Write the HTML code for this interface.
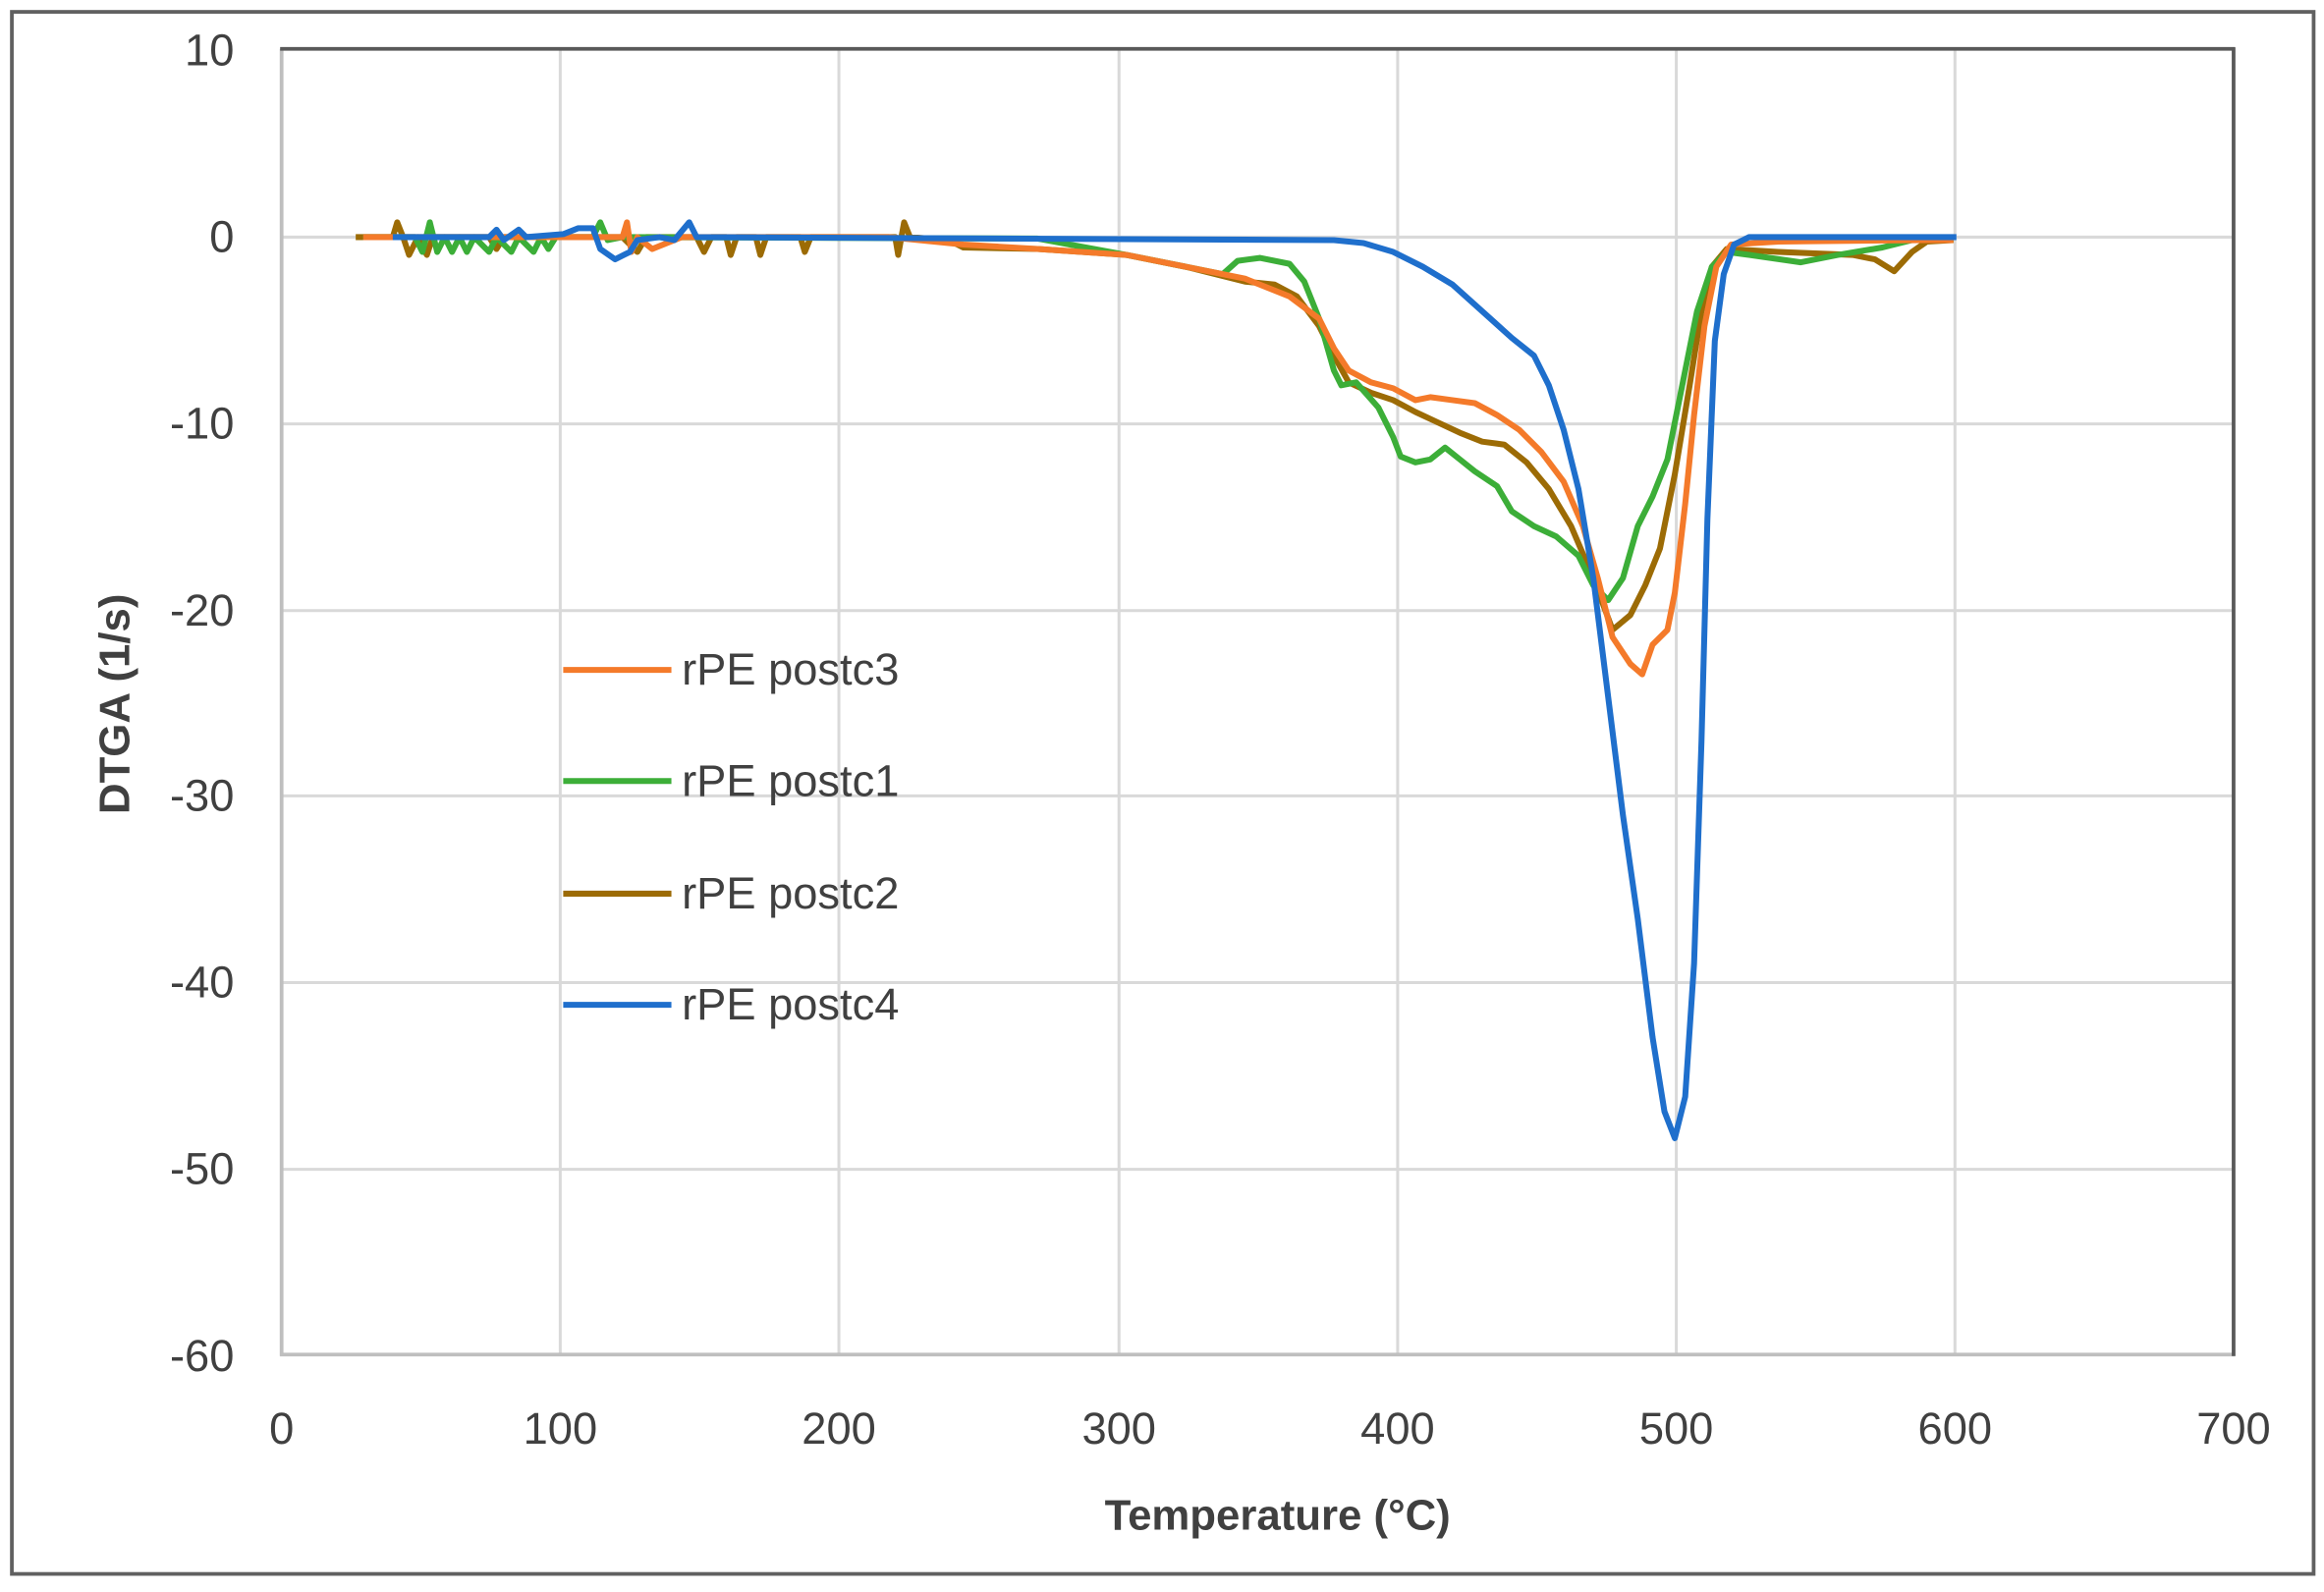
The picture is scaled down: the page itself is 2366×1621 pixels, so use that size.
<!DOCTYPE html>
<html><head><meta charset="utf-8"><style>
html,body{margin:0;padding:0;background:#fff}
svg{display:block}
text{font-family:"Liberation Sans",sans-serif;fill:#404040}
</style></head><body>
<svg width="2366" height="1621" viewBox="0 0 1568 1074.2" preserveAspectRatio="none" xmlns="http://www.w3.org/2000/svg">
<rect x="8" y="8" width="1553" height="1054" fill="#fff" stroke="#606060" stroke-width="2.5"/>
<g stroke="#d9d9d9" stroke-width="2" fill="none">
<line x1="190" y1="160" x2="1507" y2="160"/>
<line x1="190" y1="286" x2="1507" y2="286"/>
<line x1="190" y1="412" x2="1507" y2="412"/>
<line x1="190" y1="537" x2="1507" y2="537"/>
<line x1="190" y1="663" x2="1507" y2="663"/>
<line x1="190" y1="789" x2="1507" y2="789"/>
<line x1="378" y1="33" x2="378" y2="914"/>
<line x1="566" y1="33" x2="566" y2="914"/>
<line x1="755" y1="33" x2="755" y2="914"/>
<line x1="943" y1="33" x2="943" y2="914"/>
<line x1="1131" y1="33" x2="1131" y2="914"/>
<line x1="1319" y1="33" x2="1319" y2="914"/>
</g>
<line x1="190" y1="33" x2="190" y2="915" stroke="#bfbfbf" stroke-width="2.5"/>
<line x1="189" y1="914" x2="1508" y2="914" stroke="#bfbfbf" stroke-width="2.5"/>
<line x1="189" y1="33" x2="1508" y2="33" stroke="#595959" stroke-width="2.5"/>
<line x1="1507" y1="32" x2="1507" y2="915" stroke="#595959" stroke-width="2.5"/>
<g font-size="30" text-anchor="end">
<text x="158" y="44">10</text><text x="158" y="170">0</text><text x="158" y="296">-10</text>
<text x="158" y="422">-20</text><text x="158" y="547">-30</text><text x="158" y="673">-40</text>
<text x="158" y="799">-50</text><text x="158" y="925">-60</text>
</g>
<g font-size="30" text-anchor="middle">
<text x="190" y="974">0</text><text x="378" y="974">100</text><text x="566" y="974">200</text>
<text x="755" y="974">300</text><text x="943" y="974">400</text><text x="1131" y="974">500</text>
<text x="1319" y="974">600</text><text x="1507" y="974">700</text>
</g>
<text x="862" y="1032" font-size="29" font-weight="bold" text-anchor="middle">Temperature (°C)</text>
<text transform="translate(87,475) rotate(-90)" font-size="29" font-weight="bold" text-anchor="middle">DTGA  (1/s)</text>
<g fill="none" stroke-width="4" stroke-linejoin="round">
<polyline stroke="#9c6b05" points="240,160 265,160 268,150 272,160 276,172 282,160 288,172 292,160 330,160 335,168 340,160 420,160 430,170 436,160 470,160 475,170 480,160 490,160 493,172 497,160 510,160 513,172 517,160 540,160 543,170 547,160 604,160 606,172 610,150 614,160 640,162 650,167 700,168 760,172 800,180 840,190 860,192 875,200 890,220 900,240 910,258 925,265 940,270 955,278 970,285 985,292 1000,298 1015,300 1030,312 1045,330 1060,355 1075,390 1088,425 1100,415 1110,395 1120,370 1130,320 1140,260 1148,210 1155,180 1165,168 1200,170 1250,172 1265,175 1278,183 1290,170 1300,163 1318,162"/>
<polyline stroke="#3cae38" points="245,160 280,160 285,170 290,150 295,170 300,160 305,170 310,160 315,170 320,160 330,170 335,160 345,170 350,160 360,170 365,160 370,168 375,160 400,160 405,150 410,162 420,160 700,161 760,172 800,180 825,185 835,176 850,174 870,178 880,190 890,215 900,250 905,260 915,258 930,275 940,295 945,308 955,312 965,310 975,302 985,310 995,318 1010,328 1020,345 1035,355 1050,362 1065,375 1075,395 1085,405 1095,390 1105,355 1115,335 1125,310 1135,260 1145,210 1155,180 1165,170 1180,172 1215,177 1240,172 1270,167 1290,162 1318,162"/>
<polyline stroke="#f47a2a" points="245,160 420,160 423,150 426,170 430,160 440,168 460,160 600,160 650,165 700,168 760,172 800,180 840,188 870,200 890,215 900,235 910,250 925,258 940,262 955,270 965,268 980,270 995,272 1010,280 1025,290 1040,305 1055,325 1068,355 1078,390 1088,430 1100,448 1108,455 1115,435 1125,425 1130,400 1137,340 1143,280 1150,220 1158,180 1168,165 1200,163 1300,162 1318,162"/>
<polyline stroke="#1f6fcc" points="265,160 330,160 335,155 340,162 350,155 355,160 380,158 390,154 400,154 405,168 415,175 425,170 430,162 445,160 455,162 465,150 470,160 900,162 920,164 940,170 960,180 980,192 1000,210 1020,228 1035,240 1045,260 1055,290 1065,330 1075,390 1085,470 1095,550 1105,620 1115,700 1123,750 1130,768 1137,740 1143,650 1148,500 1152,350 1157,230 1163,185 1170,165 1180,160 1320,160"/>
</g>
<g stroke-width="4">
<line x1="380" y1="452" x2="453" y2="452" stroke="#f47a2a"/>
<line x1="380" y1="527" x2="453" y2="527" stroke="#3cae38"/>
<line x1="380" y1="603" x2="453" y2="603" stroke="#9c6b05"/>
<line x1="380" y1="678" x2="453" y2="678" stroke="#1f6fcc"/>
</g>
<g font-size="30">
<text x="460" y="462">rPE postc3</text><text x="460" y="537">rPE postc1</text>
<text x="460" y="613">rPE postc2</text><text x="460" y="688">rPE postc4</text>
</g>
</svg>
</body></html>
